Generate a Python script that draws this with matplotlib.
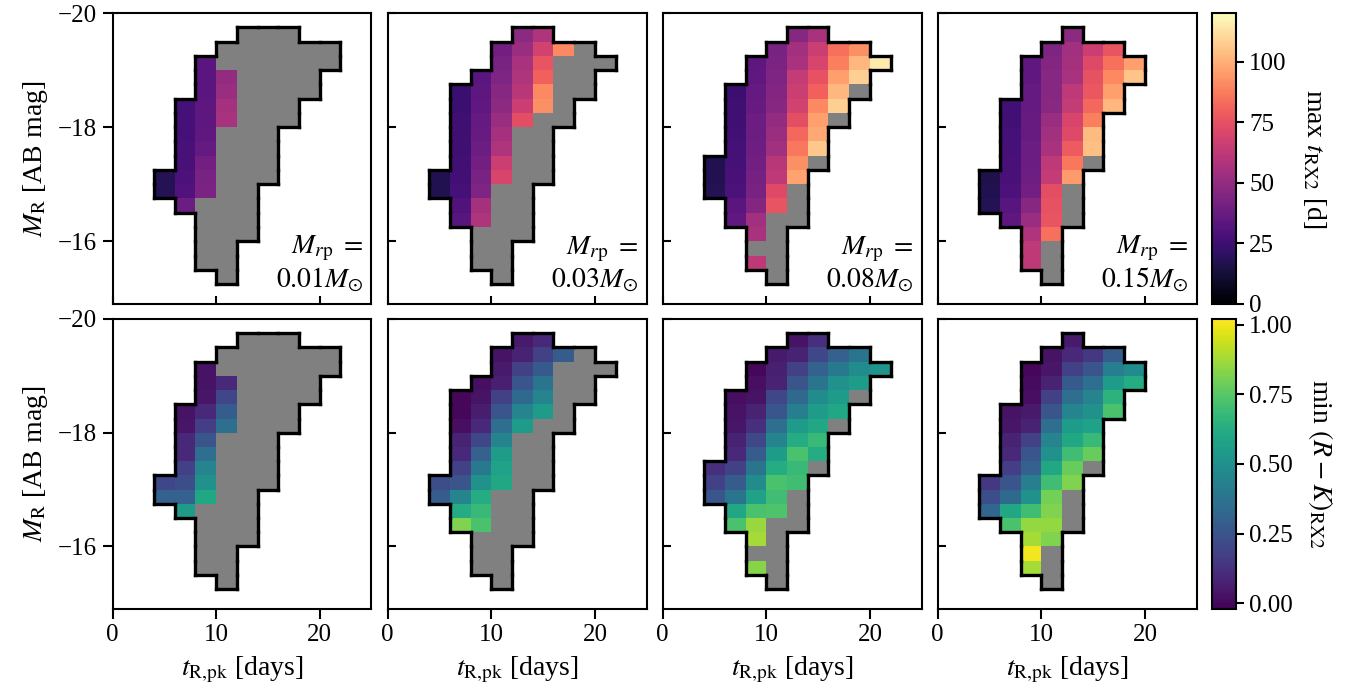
"""Grid of max t_RX2 and min (R-K)_RX2 over t_R,pk / M_R for four M_rp values."""
import numpy as np
import matplotlib

matplotlib.use("Agg")
import matplotlib.pyplot as plt
from matplotlib.colors import ListedColormap
from matplotlib.collections import LineCollection

plt.rcParams["font.family"] = ["Liberation Serif", "DejaVu Serif"]
plt.rcParams["mathtext.fontset"] = "stix"

nan = np.nan

# bin centres
T_PK = [5, 7, 9, 11, 13, 15, 17, 19, 21]
M_R = [-19.625, -19.375, -19.125, -18.875, -18.625, -18.375, -18.125, -17.875,
       -17.625, -17.375, -17.125, -16.875, -16.625, -16.375, -16.125, -15.875,
       -15.625, -15.375]

M_RP = ["0.01", "0.03", "0.08", "0.15"]

# M_R of the first (brightest) filled bin in each t_R,pk column
FIRST_001 = [-17.125, -18.375, -19.125, -19.375, -19.625, -19.625, -19.625, -19.375, -19.375]
FIRST_003 = [-17.125, -18.625, -18.875, -19.375, -19.625, -19.625, -19.375, -19.375, -19.125]
FIRST_008 = [-17.375, -18.625, -19.125, -19.375, -19.625, -19.625, -19.375, -19.375, -19.125]
FIRST_015 = [-17.125, -18.375, -19.125, -19.375, -19.625, -19.375, -19.375, -19.125, nan]

# max t_RX2 [d] per column, top to bottom (nan = no detection, grey)
TMAX_001 = [
    [18, 18],
    [27, 27, 27, 28, 28, 29, 30, 38],
    [33, 33, 33, 34, 34, 35, 36, 40, 42, 43] + [nan] * 5,
    [nan, nan, 50, 52, 55, 56] + [nan] * 11,
    [nan] * 15,
    [nan] * 11,
    [nan] * 7,
    [nan] * 4,
    [nan] * 2,
]
TMAX_003 = [
    [17, 17],
    [24, 24, 25, 25, 25, 26, 26, 27, 30, 32],
    [33, 34, 35, 36, 37, 38, 40, 42, 44, 55, 58, nan, nan, nan],
    [40, 42, 44, 46, 48, 52, 55, 58, 66, 70] + [nan] * 7,
    [48, 52, 56, 58, 60, 66, 74] + [nan] * 8,
    [58, 68, 76, 80, 90, 92] + [nan] * 5,
    [90] + [nan] * 5,
    [nan] * 4,
    [nan],
]
TMAX_008 = [
    [17, 17, 18],
    [24, 25, 25, 26, 27, 27, 28, 29, 33, 35],
    [34, 35, 36, 37, 38, 38, 39, 40, 41, 42, 45, 54, 56, nan, 62],
    [42, 43, 44, 45, 46, 50, 52, 54, 60, 62, 72, 76] + [nan] * 5,
    [46, 54, 56, 64, 66, 68, 74, 82, 86, 92, 97, nan, nan, nan],
    [56, 66, 70, 75, 80, 90, 96, 98, 106, nan],
    [84, 88, 96, 102, 108, nan],
    [92, 102, 108, nan],
    [115],
]
TMAX_015 = [
    [16, 17, 18],
    [26, 26, 27, 27, 28, 28, 29, 32, 34],
    [35, 35, 36, 36, 37, 37, 38, 38, 39, 40, 46, 52, 58, 62, 62],
    [44, 45, 46, 46, 47, 52, 54, 56, 62, 64, 74, 75, 76, 84, nan, nan, nan],
    [48, 54, 55, 56, 62, 64, 70, 72, 78, 86, 95, nan, nan, nan],
    [66, 72, 75, 77, 82, 88, 103, 104, nan],
    [76, 84, 90, 96, 102],
    [96, 105],
    [],
]

# min (R-K)_RX2 per column, top to bottom
RK_001 = [
    [0.2, 0.3],
    [0.03, 0.04, 0.1, 0.1, 0.18, 0.22, 0.3, 0.55],
    [0.03, 0.03, 0.04, 0.1, 0.17, 0.25, 0.35, 0.45, 0.5, 0.6] + [nan] * 5,
    [nan, nan, 0.1, 0.2, 0.28, 0.35] + [nan] * 11,
    [nan] * 15,
    [nan] * 11,
    [nan] * 7,
    [nan] * 4,
    [nan] * 2,
]
RK_003 = [
    [0.22, 0.28],
    [0.0, 0.0, 0.02, 0.08, 0.1, 0.18, 0.25, 0.45, 0.62, 0.82],
    [0.02, 0.03, 0.06, 0.1, 0.2, 0.3, 0.4, 0.5, 0.62, 0.68, 0.72, nan, nan, nan],
    [0.03, 0.05, 0.07, 0.18, 0.25, 0.35, 0.45, 0.55, 0.58, 0.6] + [nan] * 7,
    [0.05, 0.08, 0.18, 0.25, 0.33, 0.45, 0.55] + [nan] * 8,
    [0.1, 0.18, 0.27, 0.38, 0.45, 0.55] + [nan] * 5,
    [0.28] + [nan] * 5,
    [nan] * 4,
    [nan],
]
RK_008 = [
    [0.12, 0.18, 0.25],
    [0.02, 0.03, 0.04, 0.08, 0.1, 0.18, 0.28, 0.38, 0.6, 0.72],
    [0.0, 0.02, 0.03, 0.08, 0.12, 0.2, 0.28, 0.38, 0.48, 0.58, 0.72, 0.86, 0.88, nan, 0.83],
    [0.05, 0.07, 0.08, 0.2, 0.25, 0.35, 0.45, 0.55, 0.62, 0.72, 0.7, 0.73] + [nan] * 5,
    [0.03, 0.08, 0.18, 0.25, 0.33, 0.42, 0.55, 0.62, 0.72, 0.68, 0.7, nan, nan, nan],
    [0.12, 0.2, 0.3, 0.38, 0.48, 0.55, 0.6, 0.68, 0.62, nan],
    [0.3, 0.4, 0.5, 0.55, 0.6, nan],
    [0.38, 0.48, 0.55, nan],
    [0.52],
]
RK_015 = [
    [0.15, 0.22, 0.32],
    [0.03, 0.04, 0.08, 0.1, 0.17, 0.25, 0.33, 0.6, 0.72],
    [0.0, 0.01, 0.02, 0.05, 0.08, 0.18, 0.25, 0.3, 0.42, 0.5, 0.7, 0.85, 0.88, 1.0, 0.88],
    [0.03, 0.04, 0.08, 0.18, 0.25, 0.35, 0.45, 0.5, 0.6, 0.7, 0.8, 0.82, 0.85, 0.82, nan, nan, nan],
    [0.05, 0.1, 0.18, 0.27, 0.35, 0.45, 0.55, 0.6, 0.7, 0.78, 0.82, nan, nan, nan],
    [0.15, 0.25, 0.35, 0.45, 0.5, 0.58, 0.68, 0.78, nan],
    [0.28, 0.42, 0.55, 0.65, 0.72],
    [0.48, 0.62],
    [],
]

FIRSTS = [FIRST_001, FIRST_003, FIRST_008, FIRST_015]
TMAX = [TMAX_001, TMAX_003, TMAX_008, TMAX_015]
RK = [RK_001, RK_003, RK_008, RK_015]


def bin_edges(centres):
    c = np.asarray(centres, float)
    mid = 0.5 * (c[1:] + c[:-1])
    return np.concatenate([[2 * c[0] - mid[0]], mid, [2 * c[-1] - mid[-1]]])


def to_grid(first, cols):
    inside = np.zeros((len(M_R), len(T_PK)), bool)
    vals = np.full(inside.shape, nan)
    for c, (m0, col) in enumerate(zip(first, cols)):
        if not col:
            continue
        r0 = M_R.index(m0)
        inside[r0:r0 + len(col), c] = True
        vals[r0:r0 + len(col), c] = col
    return inside, vals


def outline(inside, xe, ye):
    p = np.pad(inside, 1)
    segs = []
    nr, nc = inside.shape
    for r in range(nr + 1):
        for c in range(nc):
            if p[r, c + 1] != p[r + 1, c + 1]:
                segs.append([(xe[c], ye[r]), (xe[c + 1], ye[r])])
    for r in range(nr):
        for c in range(nc + 1):
            if p[r + 1, c] != p[r + 1, c + 1]:
                segs.append([(xe[c], ye[r]), (xe[c], ye[r + 1])])
    return segs


xe = bin_edges(T_PK)
ye = bin_edges(M_R)

W, H = 1351, 696
fig = plt.figure(figsize=(W / 100, H / 100), dpi=100)

lefts = [112.5, 387.7, 662.7, 937.7]
pw = 259
rows_px = [(13, 304), (319, 609)]
cmaps = ["magma", "viridis"]
norms = [(0, 120), (-0.02, 1.02)]
grey = ListedColormap(["grey"])

TICK_FS = 18
LABEL_FS = 20

meshes = []
for row, (top, bot) in enumerate(rows_px):
    for col in range(4):
        ax = fig.add_axes([lefts[col] / W, 1 - bot / H, pw / W, (bot - top) / H])
        data = TMAX[col] if row == 0 else RK[col]
        inside, vals = to_grid(FIRSTS[col], data)
        ax.pcolormesh(xe, ye, np.ma.masked_where(~inside, np.ones_like(vals)), cmap=grey)
        m = ax.pcolormesh(xe, ye, np.ma.masked_invalid(vals), cmap=cmaps[row],
                          vmin=norms[row][0], vmax=norms[row][1])
        ax.add_collection(LineCollection(outline(inside, xe, ye), colors="black",
                                         linewidths=2.4, capstyle="projecting"))
        ax.set_xlim(0, 25)
        ax.set_ylim(-14.9, -20.0)
        ax.set_xticks([0, 10, 20])
        ax.set_yticks([-20, -18, -16])
        for s in ax.spines.values():
            s.set_linewidth(1.5)
        ax.tick_params(axis="x", direction="out" if row == 1 else "in",
                       length=7.5 if row == 1 else 6, width=1.5,
                       labelbottom=(row == 1), labelsize=TICK_FS)
        ax.tick_params(axis="y", direction="out" if col == 0 else "in",
                       length=7.5 if col == 0 else 6, width=1.5,
                       labelleft=(col == 0), labelsize=TICK_FS)
        if col == 0:
            ax.set_ylabel(r"$M_{\rm R}$ [AB mag]", fontsize=LABEL_FS, labelpad=6)
        if row == 1:
            ax.set_xlabel(r"$t_{\rm R,\!pk}$ [days]", fontsize=LABEL_FS, labelpad=6)
        if row == 0:
            ax.text(0.97, 0.035, r"$M_{r\rm p}\ =$" + "\n$" + M_RP[col] + r"M_{\odot}$",
                    transform=ax.transAxes, ha="right", va="bottom",
                    multialignment="right", fontsize=LABEL_FS, linespacing=1.1)
    meshes.append(m)

cb_labels = [r"max $t_{\rm RX2}$ [d]", r"min $(R-K)_{\rm RX2}$"]
cb_ticks = [[0, 25, 50, 75, 100], [0, 0.25, 0.5, 0.75, 1.0]]
for row, (top, bot) in enumerate(rows_px):
    cax = fig.add_axes([1212 / W, 1 - bot / H, 24 / W, (bot - top) / H])
    cb = fig.colorbar(meshes[row], cax=cax, ticks=cb_ticks[row])
    if row == 1:
        cb.ax.set_yticklabels([f"{t:.2f}" for t in cb_ticks[row]])
    cb.outline.set_linewidth(1.5)
    cb.ax.tick_params(labelsize=TICK_FS, width=1.5, length=6)
    cb.set_label(cb_labels[row], rotation=270, fontsize=LABEL_FS, labelpad=30)

fig.savefig("out.png", dpi=100)
